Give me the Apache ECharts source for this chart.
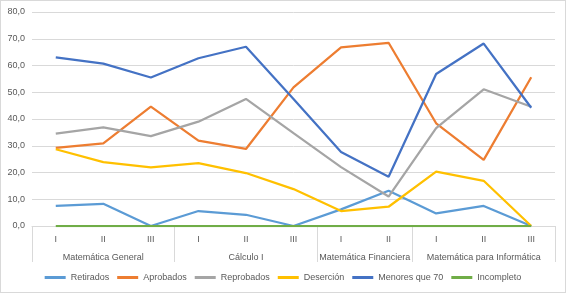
<!DOCTYPE html>
<html>
<head>
<meta charset="utf-8">
<script src="https://cdn.jsdelivr.net/npm/echarts@6/dist/echarts.min.js"></script>
<style>
  html, body { margin: 0; padding: 0; background: #fff; }
  #chart { width: 566px; height: 293px; box-sizing: border-box; border: 1px solid #d9d9d9; }
</style>
</head>
<body>
<div id="chart"></div>
<script>
// cursos (nivel superior) y cuántos periodos tiene cada uno
const groups = ['Matemática General', 'Cálculo I', 'Matemática Financiera', 'Matemática para Informática'];
const groupSizes = [3, 3, 2, 3];
const periods = ['I', 'II', 'III', 'I', 'II', 'III', 'I', 'II', 'I', 'II', 'III'];

const retirados = [7.5, 8.3, 0, 5.6, 4.2, 0, 6.2, 13.2, 4.7, 7.5, 0];
const aprobados = [29.2, 30.9, 44.6, 31.9, 28.8, 51.8, 66.8, 68.5, 38.4, 24.7, 55.6];
const reprobados = [34.5, 36.9, 33.6, 39.0, 47.5, 34.7, 22.0, 11.0, 36.6, 51.1, 44.6];
const desercion = [28.7, 23.9, 21.9, 23.5, 19.8, 13.8, 5.6, 7.2, 20.3, 16.9, 0];
const menores70 = [63.0, 60.7, 55.5, 62.7, 67.0, 47.5, 27.7, 18.4, 56.8, 68.2, 44.2];
const incompleto = [0, 0, 0, 0, 0, 0, 0, 0, 0, 0, 0];

const FONT = 'Liberation Sans';
const TXT = '#595959';
const GRID = '#d9d9d9';

// índices donde empieza cada grupo -> separadores verticales
const groupStarts = [];
let acc = 0;
groupSizes.forEach(n => { groupStarts.push(acc); acc += n; });

// eje auxiliar en medios periodos (sin boundaryGap) para centrar los nombres de grupo
const halfSlots = [];
for (let i = 0; i <= periods.length * 2; i++) halfSlots.push('');
acc = 0;
groupSizes.forEach((n, i) => { halfSlots[acc * 2 + n] = groups[i]; acc += n; });

const chart = echarts.init(document.getElementById('chart'));

function line(name, data, color) {
  return {
    name: name, type: 'line', data: data,
    symbol: 'none', xAxisIndex: 0,
    lineStyle: { width: 2.25, color: color },
    itemStyle: { color: color }
  };
}

chart.setOption({
  animation: false,
  textStyle: { fontFamily: FONT },
  grid: { left: 31, right: 10, top: 11, bottom: 66 },
  legend: {
    bottom: 5, left: 'center',
    icon: 'rect', itemWidth: 21, itemHeight: 3, itemGap: 8,
    textStyle: { fontFamily: FONT, fontSize: 9, color: TXT },
    data: ['Retirados', 'Aprobados', 'Reprobados', 'Deserción', 'Menores que 70', 'Incompleto']
  },
  xAxis: [
    {
      type: 'category', data: periods, position: 'bottom',
      axisLine: { lineStyle: { color: GRID } },
      axisTick: {
        show: true, length: 36,
        interval: (idx) => groupStarts.indexOf(idx) >= 0,
        lineStyle: { color: GRID }
      },
      axisLabel: { interval: 0, margin: 9, fontSize: 9, color: TXT, fontFamily: FONT }
    },
    {
      type: 'category', data: halfSlots, position: 'bottom', offset: 18,
      boundaryGap: false,
      axisLine: { show: false }, axisTick: { show: false },
      axisLabel: { interval: 0, margin: 9, fontSize: 9, color: TXT, fontFamily: FONT }
    }
  ],
  yAxis: {
    type: 'value', min: 0, max: 80, interval: 10,
    axisLine: { show: false }, axisTick: { show: false },
    splitLine: { lineStyle: { color: GRID } },
    axisLabel: {
      margin: 7, fontSize: 9, color: TXT, fontFamily: FONT,
      formatter: v => v.toFixed(1).replace('.', ',')
    }
  },
  series: [
    line('Retirados', retirados, '#5b9bd5'),
    line('Aprobados', aprobados, '#ed7d31'),
    line('Reprobados', reprobados, '#a5a5a5'),
    line('Deserción', desercion, '#ffc000'),
    line('Menores que 70', menores70, '#4472c4'),
    line('Incompleto', incompleto, '#70ad47')
  ]
});
</script>
</body>
</html>
